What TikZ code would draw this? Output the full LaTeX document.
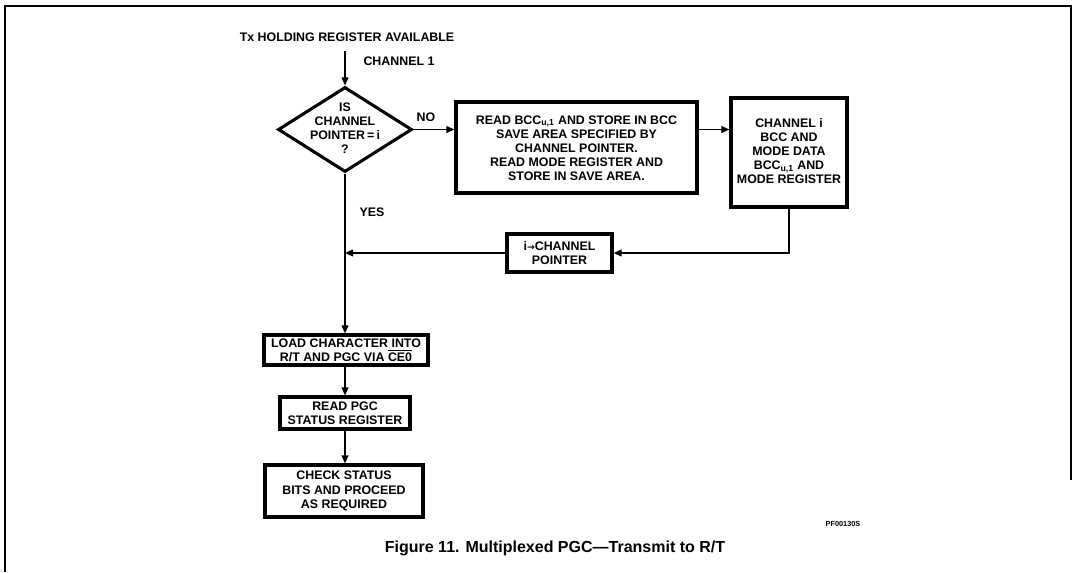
\documentclass[tikz,border=0pt]{standalone}
\usepackage{fontspec}
\setmainfont{Liberation Sans}
\newfontfamily\symfont{DejaVu Sans}
\usetikzlibrary{arrows.meta,shapes.geometric}
\begin{document}
\begin{tikzpicture}[x=0.75pt,y=-0.75pt,
  every node/.style={font=\bfseries\fontsize{9.3}{10.6}\selectfont, inner sep=0pt, align=center},
  box/.style={draw, line width=2.3pt, rectangle},
  link/.style={line width=1.2pt},
  arr/.style={link, -{Triangle[length=6pt,width=5pt]}},
]
\useasboundingbox (0,0) rectangle (1073,572);
% frame
\draw[line width=2pt] (5,572) -- (5,6) -- (1071,6) -- (1071,480);

\node (tx) at (347,37) {Tx HOLDING REGISTER AVAILABLE};
\coordinate (start) at (345,51);
\node (ch1) at (399,61) {CHANNEL 1};

\node[diamond, draw, line width=2.3pt, minimum width=100.5pt, minimum height=63.75pt] (dec) at (345,129.5) {};
\node (dectext) at (345,128) {IS\\CHANNEL\\POINTER\,=\,i\\?};

\node[box, minimum width=180.75pt, minimum height=68.25pt] (b1) at (576.5,147.5) {};
\node (b1t) at (576.5,148) {READ BCC\textsubscript{u,1} AND STORE IN BCC\\SAVE AREA SPECIFIED BY\\CHANNEL POINTER.\\READ MODE REGISTER AND\\STORE IN SAVE AREA.};

\node[box, minimum width=87pt, minimum height=81.75pt] (b2) at (789,152.5) {};
\node (b2t) at (789,151) {CHANNEL i\\BCC AND\\MODE DATA\\BCC\textsubscript{u,1} AND\\MODE REGISTER};

\node[box, minimum width=78.75pt, minimum height=28.5pt] (b3) at (559.5,253) {i{\symfont\fontsize{7}{8}\selectfont →}CHANNEL\\POINTER};

\node[box, minimum width=123pt, minimum height=22.5pt] (b4) at (346,350) {LOAD CHARACTER INTO\\R/T AND PGC VIA $\overline{\hbox{CE0}}$};
\node[box, minimum width=97.5pt, minimum height=24pt] (b5) at (345,413) {READ PGC\\STATUS REGISTER};
\node[box, minimum width=118.5pt, minimum height=39pt] (b6) at (344,491) {CHECK STATUS\\BITS AND PROCEED\\AS REQUIRED};

\node (no) at (426,117) {NO};
\node (yes) at (372,212) {YES};

\draw[arr] (start) -- (dec.north);
\draw[arr] (dec.east) -- (dec.east -| b1.west);
\draw[arr] (b1.east |- dec.east) -- (b2.west |- dec.east);
\draw[arr] (b2.south) |- (b3.east);
\draw[arr] (b3.west) -- (b3.west -| dec.south);
\draw[arr] (dec.south) -- (dec.south |- b4.north);
\draw[arr] (b4.south -| dec.south) -- (b5.north -| dec.south);
\draw[arr] (b5.south -| dec.south) -- (b6.north -| dec.south);

\node[font=\bfseries\fontsize{5.5}{6}\selectfont] (pf) at (843,524) {PF00130S};
\node[font=\bfseries\fontsize{12}{14}\selectfont] (cap) at (555,548) {Figure 11. Multiplexed PGC—Transmit to R/T};
\end{tikzpicture}
\end{document}
